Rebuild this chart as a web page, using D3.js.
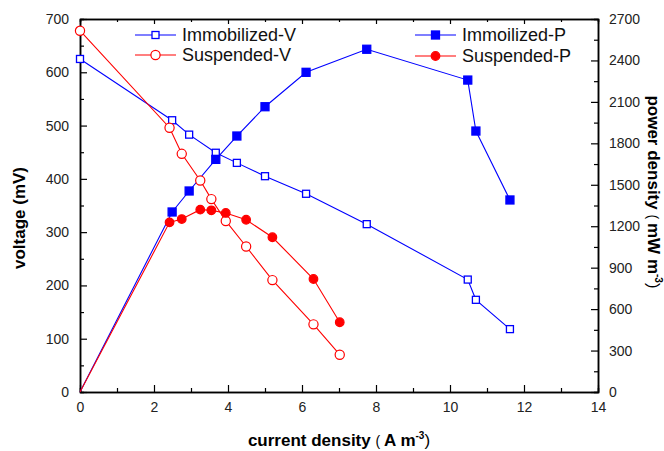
<!DOCTYPE html>
<html>
<head>
<meta charset="utf-8">
<script src="https://cdn.jsdelivr.net/npm/d3@7"></script>
<style>
  body { margin: 0; background: #fff; }
  text { font-family: Arial, "Liberation Sans", sans-serif; }
</style>
</head>
<body>
<div id="chart"></div>
<script>
// current density (A m-3)
const immoCurrent = [0, 2.49, 2.95, 3.67, 4.24, 5.0, 6.11, 7.75, 10.48, 10.7, 11.62];
const immoVoltage = [625, 510, 483, 449, 430, 405, 372, 315, 211, 173, 118];
const immoPower = [0, 1303, 1455, 1684, 1853, 2065, 2314, 2481, 2258, 1889, 1390];

const suspCurrent = [0, 2.42, 2.75, 3.25, 3.55, 3.94, 4.49, 5.2, 6.31, 7.02];
const suspVoltage = [678, 496, 447, 397, 362, 321, 273, 210, 127, 70];
const suspPower = [0, 1228, 1252, 1320, 1315, 1296, 1247, 1120, 818, 505];

const xTicks = [0, 2, 4, 6, 8, 10, 12, 14];
const yTicks = [0, 100, 200, 300, 400, 500, 600, 700];
const y2Ticks = [0, 300, 600, 900, 1200, 1500, 1800, 2100, 2400, 2700];

const [svgWidth, svgHeight] = [664, 451];
const margin = { left: 80, right: 66, top: 19, bottom: 59 };
const [width, height] = [svgWidth - margin.left - margin.right, svgHeight - margin.top - margin.bottom];

function translate(x, y) {
    return 'translate(' + x + ',' + y + ')';
}

let svg = d3.select('#chart').append('svg')
    .attr('width', svgWidth)
    .attr('height', svgHeight);

let xScale = d3.scaleLinear().domain([0, 14]).range([0, width]);
let yScale = d3.scaleLinear().domain([0, 700]).range([height, 0]);
let y2Scale = d3.scaleLinear().domain([0, 2700]).range([height, 0]);

let chart = svg.append('g').attr('transform', translate(margin.left, margin.top));

// axes: ticks point inward, minor ticks shorter
function styleAxis(g) {
    g.selectAll('path').attr('stroke', '#000').attr('stroke-width', 1.5);
    g.selectAll('line').attr('stroke', '#000').attr('stroke-width', 1.2);
    g.selectAll('text').attr('fill', '#222').style('font-size', '14px');
}

// minor ticks
chart.append('g').attr('transform', translate(0, height))
    .call(d3.axisBottom(xScale).tickValues(d3.range(1, 14, 2)).tickSize(-4).tickFormat(''))
    .call(styleAxis);
chart.append('g')
    .call(d3.axisTop(xScale).tickValues(d3.range(1, 14, 2)).tickSize(-3).tickFormat(''))
    .call(styleAxis);
chart.append('g')
    .call(d3.axisLeft(yScale).tickValues(d3.range(50, 700, 100)).tickSize(-4).tickFormat(''))
    .call(styleAxis);
chart.append('g').attr('transform', translate(width, 0))
    .call(d3.axisRight(y2Scale).tickValues(d3.range(150, 2700, 300)).tickSize(-4).tickFormat(''))
    .call(styleAxis);

// major ticks
chart.append('g').attr('transform', translate(0, height))
    .call(d3.axisBottom(xScale).tickValues(xTicks).tickSize(-7).tickPadding(10).tickSizeOuter(0))
    .call(styleAxis);
chart.append('g')
    .call(d3.axisTop(xScale).tickValues(xTicks).tickSize(-5).tickFormat('').tickSizeOuter(0))
    .call(styleAxis);
chart.append('g')
    .call(d3.axisLeft(yScale).tickValues(yTicks).tickSize(-7).tickPadding(11).tickSizeOuter(0))
    .call(styleAxis);
chart.append('g').attr('transform', translate(width, 0))
    .call(d3.axisRight(y2Scale).tickValues(y2Ticks).tickSize(-7).tickPadding(11).tickSizeOuter(0).tickFormat(d3.format('d')))
    .call(styleAxis);

let series = [
    { name: 'Immobilized-V', x: immoCurrent, y: immoVoltage, scale: yScale, color: '#0000ff', shape: 'square', filled: false },
    { name: 'Suspended-V', x: suspCurrent, y: suspVoltage, scale: yScale, color: '#ff0000', shape: 'circle', filled: false },
    { name: 'Immoilized-P', x: immoCurrent, y: immoPower, scale: y2Scale, color: '#0000ff', shape: 'square', filled: true },
    { name: 'Suspended-P', x: suspCurrent, y: suspPower, scale: y2Scale, color: '#ff0000', shape: 'circle', filled: true }
];

function drawMarker(g, s, cx, cy) {
    if (s.shape === 'square') {
        let size = s.filled ? 8 : 7;
        g.append('rect')
            .attr('x', cx - size / 2).attr('y', cy - size / 2)
            .attr('width', size).attr('height', size)
            .attr('fill', s.filled ? s.color : '#fff')
            .attr('stroke', s.color).attr('stroke-width', 1.3);
    } else {
        g.append('circle')
            .attr('cx', cx).attr('cy', cy)
            .attr('r', s.filled ? 4.3 : 4.6)
            .attr('fill', s.filled ? s.color : '#fff')
            .attr('stroke', s.color).attr('stroke-width', 1.2);
    }
}

series.forEach(function (s) {
    let data = s.x.map((d, i) => [d, s.y[i]]);
    let line = d3.line()
        .x(d => xScale(d[0]))
        .y(d => s.scale(d[1]));
    chart.append('path')
        .datum(data)
        .attr('d', line)
        .style('fill', 'none')
        .style('stroke', s.color)
        .style('stroke-width', 1.1);
});

series.forEach(function (s) {
    let g = chart.append('g');
    s.x.forEach(function (d, i) {
        if (s.y[i] === 0) return; // origin point hidden behind the axes
        drawMarker(g, s, xScale(d), s.scale(s.y[i]));
    });
});

// legend
let legendPos = [[55, 16], [55, 36], [335, 16], [335, 37]];
series.forEach(function (s, i) {
    let g = chart.append('g').attr('transform', translate(legendPos[i][0], legendPos[i][1]));
    g.append('line').attr('x1', 0).attr('x2', 41).attr('y1', 0).attr('y2', 0)
        .attr('stroke', s.color).attr('stroke-width', 1.1);
    drawMarker(g, s, 20.5, 0);
    g.append('text').attr('x', 47).attr('y', 0).attr('dy', '0.36em')
        .style('font-size', '18px').attr('fill', '#111')
        .text(s.name);
});

// axis titles
let xTitle = svg.append('text')
    .attr('x', margin.left + width / 2).attr('y', 446)
    .attr('text-anchor', 'middle')
    .style('font-size', '17px').style('font-weight', 'bold');
xTitle.append('tspan').text('current density ');
xTitle.append('tspan').style('font-weight', 'normal').style('font-size', '14px').text('( ');
xTitle.append('tspan').text('A m');
xTitle.append('tspan').attr('dy', -7).style('font-size', '10px').text('-3');
xTitle.append('tspan').attr('dy', 7).style('font-weight', 'normal').text(')');

svg.append('text')
    .attr('transform', translate(25, 218) + ' rotate(-90)')
    .attr('text-anchor', 'middle')
    .style('font-size', '17px').style('font-weight', 'bold')
    .text('voltage (mV)');

let y2Title = svg.append('text')
    .attr('transform', translate(648, 192) + ' rotate(90)')
    .attr('text-anchor', 'middle')
    .style('font-size', '17px').style('font-weight', 'bold');
y2Title.append('tspan').text('power density ');
y2Title.append('tspan').style('font-weight', 'normal').style('font-size', '14px').text('( ');
y2Title.append('tspan').text('mW m');
y2Title.append('tspan').attr('dy', -7).style('font-size', '10px').text('-3');
y2Title.append('tspan').attr('dy', 7).style('font-weight', 'normal').text(')');
</script>
</body>
</html>
